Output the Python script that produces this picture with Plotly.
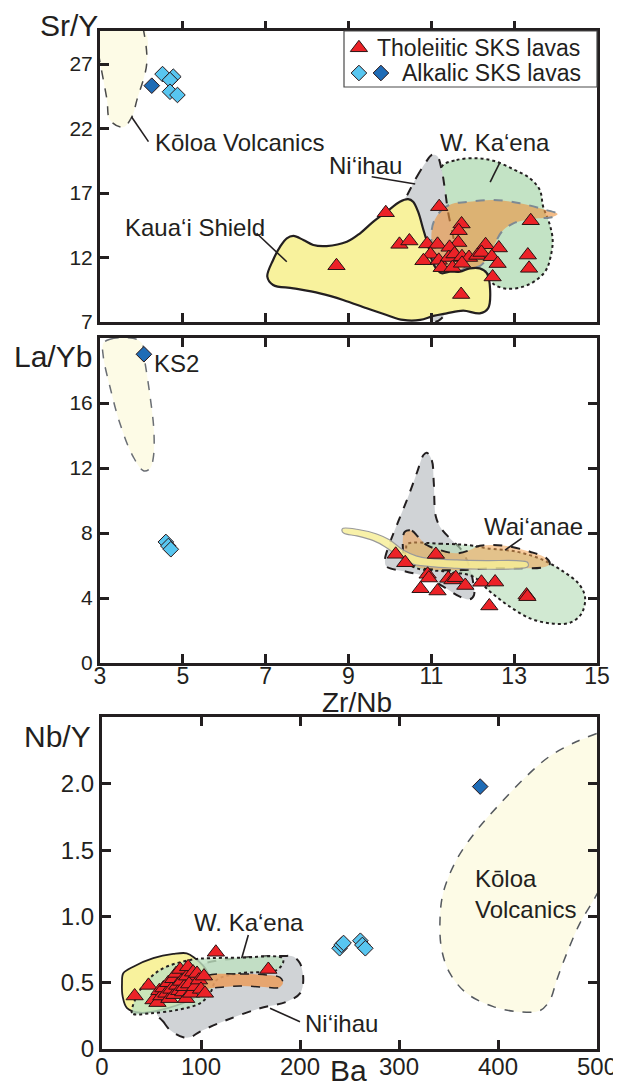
import plotly.graph_objects as go

FONT = "Liberation Sans, Arial, Helvetica, sans-serif"
INK = "#231F20"
RED = "#EC2227"
LIGHT_BLUE = "#58C6F0"
DARK_BLUE = "#1F6CB6"

# ---------------- Panel 1: Sr/Y vs Zr/Nb ----------------
p1_thol_zrnb = [9.90, 11.19, 11.73, 11.66, 13.40, 8.71, 10.23, 10.47, 10.90, 11.15, 11.65, 11.44,
                12.31, 12.63, 10.98, 10.81, 11.18, 11.42, 11.56, 11.74, 11.91, 12.11, 12.21, 12.46,
                12.60, 13.33, 13.36, 12.48, 11.72, 11.25, 11.51, 11.74]
p1_thol_sry = [15.47, 15.94, 14.60, 14.08, 14.85, 11.36, 13.02, 13.28, 13.05, 13.02, 13.16, 12.79,
               12.99, 12.74, 12.25, 11.75, 11.78, 12.00, 12.27, 12.06, 12.00, 12.16, 12.39, 12.06,
               11.53, 12.19, 11.16, 10.49, 9.13, 11.21, 11.22, 11.55]
p1_alk_zrnb = [4.51, 4.77, 4.69, 4.69, 4.87]
p1_alk_sry = [26.22, 26.02, 25.76, 24.85, 24.60]
p1_ks2_zrnb = [4.25]
p1_ks2_sry = [25.32]

p1_koloa_x = [4.04, 4.13, 3.89, 3.77, 3.56, 3.24, 3.17, 3.02, 2.98]
p1_koloa_y = [29.8, 27.08, 24.2, 22.9, 22.1, 22.66, 24.2, 26.8, 27.5]
p1_shield_x = [7.04, 7.18, 7.67, 8.31, 8.87, 9.44, 9.92, 10.32, 10.73, 11.05, 11.37, 11.77, 12.17,
               12.37, 12.42, 12.34, 12.17, 11.93, 11.69, 11.45, 11.25, 11.11, 11.01, 10.93, 10.81,
               10.68, 10.56, 10.44, 10.24, 9.92, 9.60, 9.28, 8.96, 8.47, 8.15, 7.91, 7.67, 7.51,
               7.35, 7.18]
p1_shield_y = [10.51, 9.87, 9.61, 9.22, 8.71, 8.06, 7.54, 7.16, 7.16, 7.47, 7.67, 7.88, 7.67,
               8.06, 9.48, 10.78, 11.16, 11.16, 10.90, 10.90, 10.78, 11.16, 11.81, 12.84, 14.13,
               15.55, 16.33, 16.53, 16.33, 15.55, 14.78, 13.88, 13.22, 12.89, 12.97, 13.36, 13.67,
               13.49, 12.84, 11.81]
p1_niihau_x = [10.44, 10.65, 10.85, 11.01, 11.14, 11.25, 11.33, 11.41, 11.53, 11.61, 11.57, 11.41,
               11.25, 11.09, 10.93, 10.56, 10.32, 10.32]
p1_niihau_y = [16.98, 18.26, 19.30, 19.95, 19.87, 18.78, 17.23, 15.43, 13.61, 11.81, 10.00, 8.19,
               7.29, 7.02, 7.41, 10.78, 14.65, 16.20]
p1_kaena_x = [11.25, 11.61, 12.09, 12.50, 12.98, 13.38, 13.62, 13.70, 13.85, 13.93, 13.88, 13.77,
              13.54, 13.22, 12.82, 12.50, 12.34, 11.85, 11.45, 11.29]
p1_kaena_y = [19.04, 19.56, 19.69, 19.50, 18.84, 18.14, 17.23, 15.94, 14.65, 13.36, 12.06, 11.03,
              10.26, 9.74, 9.58, 9.95, 10.78, 11.03, 13.36, 15.94]
p1_waianae_x = [11.06, 11.25, 11.49, 11.85, 12.50, 13.14, 13.70, 14.05, 13.91, 13.46, 12.98, 12.70,
                12.54, 12.37, 12.17, 11.85, 11.49, 11.25, 11.09, 11.01, 11.01]
p1_waianae_y = [14.78, 15.68, 16.15, 16.30, 16.46, 16.20, 15.74, 15.37, 15.12, 15.01, 14.65, 14.00,
                13.10, 12.06, 11.34, 11.16, 10.78, 10.82, 11.55, 12.84, 14.13]

# ---------------- Panel 2: La/Yb vs Zr/Nb ----------------
p2_thol_zrnb = [10.14, 10.37, 11.11, 10.91, 10.94, 10.74, 11.15, 11.41, 11.51, 11.59, 11.82, 12.21,
                12.54, 12.40, 13.30, 13.32]
p2_thol_layb = [6.69, 6.17, 6.68, 5.46, 5.23, 4.57, 4.43, 5.21, 5.11, 5.25, 4.77, 4.97,
                4.98, 3.51, 4.18, 4.08]
p2_alk_zrnb = [4.59, 4.65, 4.71]
p2_alk_layb = [7.45, 7.20, 7.00]
p2_ks2_zrnb = [4.06]
p2_ks2_layb = [19.0]

p2_koloa_x = [3.08, 3.24, 3.80, 4.01, 4.09, 4.21, 4.30, 4.29, 4.21, 4.06, 3.80, 3.48, 3.24, 3.08]
p2_koloa_y = [19.67, 19.92, 19.98, 19.67, 18.44, 16.39, 14.34, 12.70, 11.98, 11.82, 12.70, 14.75,
              17.0, 18.85]
p2_niihau_x = [10.89, 11.01, 11.06, 11.11, 11.25, 11.49, 11.73, 11.89, 12.00, 12.03, 11.93, 11.69,
               11.29, 10.89, 10.40, 9.92, 9.88, 9.98, 10.20, 10.44, 10.66, 10.81]
p2_niihau_y = [12.94, 12.49, 11.06, 9.00, 8.23, 7.57, 6.95, 6.14, 5.11, 4.18, 3.92, 4.08,
               4.70, 5.31, 5.62, 5.93, 6.34, 7.26, 8.70, 10.23, 11.77, 12.80]
p2_kaena_x = [10.42, 11.21, 11.93, 12.34, 13.06, 13.70, 14.19, 14.55, 14.71, 14.63, 14.35, 13.86,
              13.38, 12.90, 12.42, 12.01, 11.37, 10.65, 10.36, 10.39]
p2_kaena_y = [7.32, 7.34, 7.24, 7.06, 6.85, 6.34, 5.62, 4.90, 4.08, 3.06, 2.48, 2.44,
              2.75, 3.46, 4.39, 5.31, 5.62, 5.83, 6.34, 6.95]
p2_waianae_x = [10.36, 10.53, 10.68, 10.89, 11.21, 11.61, 11.93, 12.09, 12.42, 12.82, 13.38, 13.78,
                13.86, 13.70, 13.06, 12.42, 11.77, 11.21, 10.65, 10.36, 10.31]
p2_waianae_y = [8.08, 8.14, 7.77, 7.26, 6.95, 6.75, 6.95, 7.16, 7.26, 7.20, 6.85, 6.44,
                6.09, 5.89, 5.83, 5.83, 5.72, 5.72, 5.93, 6.54, 7.37]
p2_shield_x = [8.87, 9.20, 9.68, 10.00, 10.32, 10.65, 10.97, 11.61, 12.34, 13.06, 13.32, 13.33,
               13.06, 12.34, 11.61, 10.97, 10.48, 10.16, 9.88, 9.60, 9.20, 8.89, 8.84]
p2_shield_y = [8.29, 8.23, 7.94, 7.57, 6.95, 6.58, 6.44, 6.34, 6.30, 6.30, 6.20, 5.93,
               5.80, 5.77, 5.83, 5.93, 6.14, 6.65, 7.16, 7.53, 7.82, 7.98, 8.18]

# ---------------- Panel 3: Nb/Y vs Ba ----------------
p3_thol_ba = [33, 47, 52, 56, 58, 60, 62, 65, 67, 68, 70, 72, 73, 75, 76, 78, 79, 80, 82, 83,
              85, 86, 87, 88, 90, 92, 94, 96, 98, 100, 103, 104, 115, 168]
p3_thol_nby = [0.40, 0.48, 0.37, 0.35, 0.44, 0.40, 0.46, 0.42, 0.50, 0.38, 0.45, 0.53, 0.41, 0.57,
               0.48, 0.44, 0.60, 0.51, 0.43, 0.47, 0.38, 0.55, 0.62, 0.49, 0.42, 0.58, 0.47, 0.57,
               0.52, 0.45, 0.55, 0.42, 0.73, 0.60]
p3_alk_ba = [240, 242, 244, 261, 263, 266]
p3_alk_nby = [0.76, 0.785, 0.80, 0.817, 0.785, 0.76]
p3_ks2_ba = [382]
p3_ks2_nby = [1.98]

p3_koloa_x = [499.7, 479.5, 452.5, 429.0, 402.0, 378.5, 358.3, 344.7, 341.4, 343.1, 351.5, 368.4,
              395.3, 422.2, 442.4, 452.5, 459.3, 469.4, 482.8, 496.3, 508.0]
p3_koloa_y = [2.38, 2.32, 2.21, 2.06, 1.85, 1.65, 1.43, 1.18, 0.97, 0.75, 0.57, 0.42,
              0.32, 0.28, 0.29, 0.37, 0.52, 0.72, 0.95, 1.12, 1.28]
p3_niihau_x = [55.3, 61.9, 68.7, 82.1, 88.9, 99.0, 126.0, 159.6, 186.6, 200.0, 203.3, 200.0,
               193.2, 183.1, 139.4, 99.0, 68.7]
p3_niihau_y = [0.272, 0.206, 0.143, 0.088, 0.088, 0.131, 0.219, 0.307, 0.357, 0.420, 0.521, 0.647,
               0.697, 0.702, 0.687, 0.634, 0.483]
p3_shield_x = [21.5, 31.6, 51.8, 72.0, 85.6, 93.9, 104.0, 109.1, 104.0, 88.9, 58.6, 38.4, 25.3,
               20.9, 20.2]
p3_shield_y = [0.571, 0.621, 0.685, 0.717, 0.722, 0.685, 0.611, 0.521, 0.445, 0.370, 0.294, 0.274,
               0.309, 0.395, 0.496]
p3_kaena_x = [30.0, 31.6, 48.5, 75.5, 99.0, 109.1, 115.9, 139.4, 176.5, 183.1, 181.5, 139.4, 109.1,
              88.9, 58.6, 38.4]
p3_kaena_y = [0.279, 0.264, 0.269, 0.294, 0.345, 0.420, 0.521, 0.571, 0.596, 0.657, 0.689, 0.689,
              0.685, 0.672, 0.596, 0.445]
p3_waianae_x = [105.8, 139.4, 166.4, 179.8, 182.8, 178.8, 166.4, 139.4, 114.1, 104.0, 101.0]
p3_waianae_y = [0.551, 0.566, 0.558, 0.540, 0.498, 0.464, 0.466, 0.475, 0.463, 0.458, 0.498]

# tick values / labels
zrnb_ticks = [3, 5, 7, 9, 11, 13, 15]
sry_ticks = [7, 12, 17, 22, 27]
layb_ticks = [0, 4, 8, 12, 16]
ba_ticks = [0, 100, 200, 300, 400, 500]
nby_ticks = [0, 0.5, 1.0, 1.5, 2.0]
nby_ticktext = ["0", "0.5", "1.0", "1.5", "2.0"]

fig = go.Figure()


def closed(v):
    return list(v) + [v[0]]


def field(xs, ys, fill, lcolor, dash, width, xa, ya, close=True):
    X = closed(xs) if close else xs
    Y = closed(ys) if close else ys
    fig.add_trace(go.Scatter(
        x=X, y=Y, mode="lines", fill="toself", fillcolor=fill,
        line=dict(color=lcolor, width=width, dash=dash, shape="spline", smoothing=1.0),
        xaxis=xa, yaxis=ya, hoverinfo="skip", showlegend=False))


def outline(xs, ys, lcolor, dash, width, xa, ya):
    fig.add_trace(go.Scatter(
        x=xs, y=ys, mode="lines",
        line=dict(color=lcolor, width=width, dash=dash, shape="spline", smoothing=1.0),
        xaxis=xa, yaxis=ya, hoverinfo="skip", showlegend=False))


def points(xs, ys, symbol, color, size, xa, ya):
    fig.add_trace(go.Scatter(
        x=xs, y=ys, mode="markers",
        marker=dict(symbol=symbol, color=color, size=size, line=dict(color="#2A1414", width=1)),
        xaxis=xa, yaxis=ya, hoverinfo="skip", showlegend=False))


KOLOA = "#FDFBE6"
SHIELD = "#F8F29D"
GRAY = "#D0D3D6"
GREEN = "#C3E3C5"

# Panel 1 fields
field(p1_koloa_x + [2.9], p1_koloa_y + [29.8], KOLOA, "rgba(0,0,0,0)", "solid", 0, "x", "y")
outline(p1_koloa_x, p1_koloa_y, "#4A4A4A", "dash", 1.5, "x", "y")
field(p1_kaena_x, p1_kaena_y, GREEN, INK, "dot", 2, "x", "y")
field(p1_niihau_x, p1_niihau_y, GRAY, INK, "dash", 2, "x", "y")
field(p1_waianae_x, p1_waianae_y, "rgba(235,148,65,0.62)", "#7E8A94", "dash", 2, "x", "y")
field(p1_shield_x, p1_shield_y, SHIELD, INK, "solid", 2.2, "x", "y")
points(p1_thol_zrnb, p1_thol_sry, "triangle-up", RED, 15, "x", "y")
points(p1_alk_zrnb, p1_alk_sry, "diamond", LIGHT_BLUE, 12, "x", "y")
points(p1_ks2_zrnb, p1_ks2_sry, "diamond", DARK_BLUE, 12, "x", "y")
fig.add_trace(go.Scatter(x=[], y=[], xaxis="x4", yaxis="y", showlegend=False))

# Panel 2 fields
field(p2_koloa_x, p2_koloa_y, KOLOA, "#6A6E74", "dash", 1.5, "x2", "y2")
field(p2_niihau_x, p2_niihau_y, GRAY, INK, "dash", 2, "x2", "y2")
field(p2_kaena_x, p2_kaena_y, "rgba(180,220,182,0.62)", INK, "dot", 2, "x2", "y2")
field(p2_waianae_x, p2_waianae_y, "rgba(243,162,80,0.55)", INK, "dash", 2, "x2", "y2")
field(p2_shield_x, p2_shield_y, "rgba(247,238,150,0.82)", "#9A9A9A", "solid", 1.2, "x2", "y2")
points(p2_thol_zrnb, p2_thol_layb, "triangle-up", RED, 15, "x2", "y2")
points(p2_alk_zrnb, p2_alk_layb, "diamond", LIGHT_BLUE, 12, "x2", "y2")
points(p2_ks2_zrnb, p2_ks2_layb, "diamond", DARK_BLUE, 12, "x2", "y2")

# Panel 3 fields
field(p3_koloa_x + [520, 520, 505], p3_koloa_y + [1.5, 2.6, 2.45], KOLOA,
      "rgba(0,0,0,0)", "solid", 0, "x3", "y3")
outline(p3_koloa_x, p3_koloa_y, "#55595E", "dash", 1.5, "x3", "y3")
field(p3_niihau_x, p3_niihau_y, GRAY, INK, "dash", 2, "x3", "y3")
field(p3_shield_x, p3_shield_y, SHIELD, INK, "solid", 1.8, "x3", "y3")
field(p3_kaena_x, p3_kaena_y, "rgba(190,225,192,0.8)", INK, "dot", 2, "x3", "y3")
field(p3_waianae_x, p3_waianae_y, "rgba(232,160,100,0.9)", INK, "dash", 1.5, "x3", "y3")
points(p3_thol_ba, p3_thol_nby, "triangle-up", RED, 15, "x3", "y3")
points(p3_alk_ba, p3_alk_nby, "diamond", LIGHT_BLUE, 12, "x3", "y3")
points(p3_ks2_ba, p3_ks2_nby, "diamond", DARK_BLUE, 12, "x3", "y3")

# Custom legend glyphs
fig.add_trace(go.Scatter(x=[0.059], y=[0.70], mode="markers", xaxis="x5", yaxis="y5",
                         marker=dict(symbol="triangle-up", color=RED, size=15,
                                     line=dict(color="#2A1414", width=1)),
                         showlegend=False, hoverinfo="skip"))
fig.add_trace(go.Scatter(x=[0.059, 0.146], y=[0.25, 0.25], mode="markers", xaxis="x5", yaxis="y5",
                         marker=dict(symbol="diamond", color=[LIGHT_BLUE, DARK_BLUE], size=12,
                                     line=dict(color="#2A1414", width=1)),
                         showlegend=False, hoverinfo="skip"))

# page body has an 8px margin: figure occupies window pixels 8..621 x 8..1087
OFF = 8
W, H = 621 - OFF, 1087 - OFF


def fx(p):
    return (p - OFF) / W


def fy(p):
    return 1 - (p - OFF) / H


X1 = [fx(100), fx(597)]
X3 = [fx(102), fx(597)]
Y1 = [fy(322), fy(31)]
Y2 = [fy(663), fy(338)]
Y3 = [fy(1049), fy(717)]

axis_common = dict(showgrid=False, zeroline=False, showline=True, linecolor=INK, linewidth=3,
                   ticks="inside", ticklen=9, tickwidth=3, tickcolor=INK, automargin=False,
                   tickfont=dict(family=FONT, size=21, color=INK), layer="above traces")

fig.update_layout(
    template="none",
    width=W, height=H, margin=dict(l=0, r=0, t=0, b=0, pad=0, autoexpand=False),
    paper_bgcolor="white", plot_bgcolor="white", showlegend=False,
    xaxis=dict(axis_common, domain=X1, anchor="y", range=[3, 15], tickvals=zrnb_ticks,
               showticklabels=False, mirror=True),
    xaxis4=dict(overlaying="x", anchor="y", side="top", range=[3, 15], tickvals=zrnb_ticks[1:-1],
                ticks="outside", ticklen=9, tickwidth=3, tickcolor=INK, showticklabels=False,
                showline=False, showgrid=False, zeroline=False, automargin=False),
    yaxis=dict(axis_common, domain=Y1, anchor="x", range=[7, 29.56], tickvals=sry_ticks,
               mirror=True),
    xaxis2=dict(axis_common, domain=X1, anchor="y2", range=[3, 15], tickvals=zrnb_ticks,
                mirror="ticks", ticklabelstandoff=-10,
                tickfont=dict(family=FONT, size=23, color=INK)),
    yaxis2=dict(axis_common, domain=Y2, anchor="x2", range=[0, 20], tickvals=layb_ticks,
                mirror="ticks"),
    xaxis3=dict(axis_common, domain=X3, anchor="y3", range=[0, 500], tickvals=ba_ticks,
                mirror="ticks", ticklabelstandoff=-6,
                tickfont=dict(family=FONT, size=24, color=INK)),
    yaxis3=dict(axis_common, domain=Y3, anchor="x3", range=[0, 2.505], tickvals=nby_ticks,
                ticktext=nby_ticktext, mirror="ticks", tickfont=dict(family=FONT, size=24, color=INK)),
    xaxis5=dict(domain=[fx(344), fx(597)], anchor="y5", range=[0, 1], visible=False),
    yaxis5=dict(domain=[fy(87), fy(31)], anchor="x5", range=[0, 1], visible=False),
)

ann = []


def label(text, x, y, xref, yref, size=24, xanchor="left", yanchor="middle", align="left"):
    ann.append(dict(text=text, x=x, y=y, xref=xref, yref=yref, showarrow=False,
                    xanchor=xanchor, yanchor=yanchor, align=align,
                    font=dict(family=FONT, size=size, color=INK)))


# axis titles
label("Sr/Y", fx(100), fy(26), "paper", "paper", 30, "right")
label("La/Yb", fx(94), fy(357), "paper", "paper", 30, "right")
label("Nb/Y", fx(93), fy(736), "paper", "paper", 30, "right")
label("Zr/Nb", fx(357), fy(702), "paper", "paper", 28, "center")
label("Ba", fx(348), fy(1070), "paper", "paper", 30, "center")

# field labels
label("Kōloa Volcanics", 4.28, 20.95, "x", "y")
label("Kaua‘i Shield", 3.56, 14.36, "x", "y")
label("Ni‘ihau", 8.48, 19.17, "x", "y")
label("W. Ka‘ena", 11.16, 20.88, "x", "y")
label("KS2", 4.26, 18.46, "x2", "y2")
label("Wai‘anae", 12.22, 8.39, "x2", "y2")
label("W. Ka‘ena", 90.9, 0.951, "x3", "y3")
label("Ni‘ihau", 203, 0.196, "x3", "y3")
label("Kōloa<br>Volcanics", 374.7, 1.166, "x3", "y3")

# legend text
label("Tholeiitic SKS lavas", 0.123, 0.70, "x5", "y5", 23)
label("Alkalic SKS lavas", 0.221, 0.25, "x5", "y5", 23)

fig.update_layout(annotations=ann)

leaders = [
    ("x", "y", 4.17, 20.98, 3.76, 22.91),
    ("x", "y", 6.78, 13.88, 7.51, 11.67),
    ("x", "y", 9.56, 18.26, 10.61, 17.70),
    ("x", "y", 12.66, 19.40, 12.42, 17.84),
    ("x2", "y2", 13.18, 7.67, 12.78, 6.95),
    ("x3", "y3", 147.8, 0.860, 141.1, 0.685),
    ("x3", "y3", 169.7, 0.307, 200.0, 0.206),
]
shapes = []
for xr, yr, x0, y0, x1, y1 in leaders:
    shapes.append(dict(type="line", xref=xr, yref=yr, x0=x0, y0=y0, x1=x1, y1=y1,
                       line=dict(color=INK, width=1.6)))
shapes.append(dict(type="rect", xref="paper", yref="paper", x0=fx(344), x1=fx(597),
                   y0=fy(87), y1=fy(31), line=dict(color="#4A4A4A", width=1.2)))
fig.update_layout(shapes=shapes)

fig.write_html("out.html")
